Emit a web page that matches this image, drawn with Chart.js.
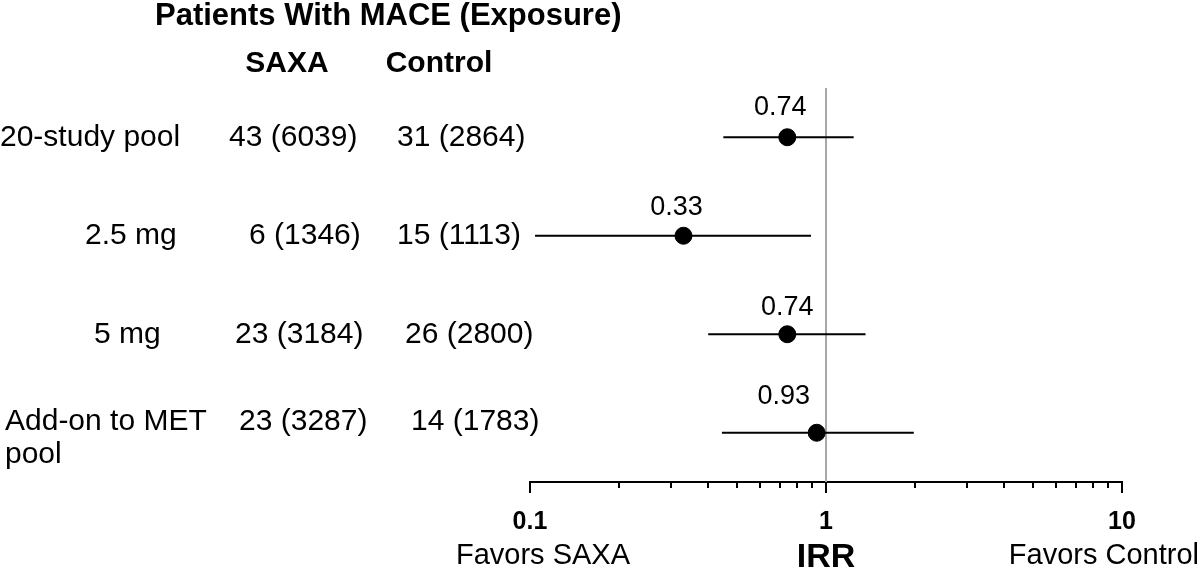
<!DOCTYPE html>
<html><head><meta charset="utf-8">
<script src="https://cdn.jsdelivr.net/npm/chart.js@4/dist/chart.umd.min.js"></script>
<style>html,body{margin:0;padding:0;background:#fff}</style>
</head><body>
<canvas id="c" width="1200" height="576"></canvas>
<script>
// ---- data ----
const studies = ['20-study pool', '2.5 mg', '5 mg', 'Add-on to MET\npool'];
const saxaCounts = ['43 (6039)', '6 (1346)', '23 (3184)', '23 (3287)'];
const controlCounts = ['31 (2864)', '15 (1113)', '26 (2800)', '14 (1783)'];
const irr = [0.74, 0.33, 0.74, 0.93];
const ciLow = [0.45, 0.104, 0.40, 0.445];
const ciHigh = [1.24, 0.89, 1.36, 1.98];
const rows = [1, 2, 3, 4];
const irrLabels = ['0.74', '0.33', '0.74', '0.93'];
const majorTicks = [0.1, 1, 10];
const minorTicks = [0.2, 0.3, 0.4, 0.5, 0.6, 0.7, 0.8, 0.9, 2, 3, 4, 5, 6, 7, 8, 9];
const tickLabels = ['0.1', '1', '10'];
const titleText = 'Patients With MACE (Exposure)';
const colHeaders = ['SAXA', 'Control'];
const bottomLabels = ['Favors SAXA', 'IRR', 'Favors Control'];

// ---- layout (not data) ----
const labelLeft = [0, 85, 94, 5];
const saxaLeft = [229, 249, 235, 239];
const ctrlLeft = [397, 397, 405, 411];
const valDx = [-7, -7, 0, -33];
const valDy = [-30, -28, -27, -36];
const FF = '"Liberation Sans", Arial, Helvetica, sans-serif';

function txt(ctx, s, x, y, font, align) {
  ctx.save();
  ctx.font = font;
  ctx.textBaseline = 'middle';
  ctx.textAlign = align || 'left';
  ctx.fillStyle = '#000';
  ctx.fillText(s, x, y);
  ctx.restore();
}

const textPlugin = {
  id: 'forestText',
  afterDraw(chart) {
    const ctx = chart.ctx;
    const xs = chart.scales.x, ys = chart.scales.y;
    const ca = chart.chartArea;
    // tick marks
    ctx.save();
    ctx.strokeStyle = '#000';
    ctx.lineWidth = 2;
    ctx.beginPath();
    majorTicks.forEach(v => { const px = Math.round(xs.getPixelForValue(v)); ctx.moveTo(px, ca.bottom); ctx.lineTo(px, ca.bottom + 11); });
    minorTicks.forEach(v => { const px = Math.round(xs.getPixelForValue(v)); ctx.moveTo(px, ca.bottom); ctx.lineTo(px, ca.bottom + 6); });
    ctx.stroke();
    ctx.restore();
    // title + headers
    txt(ctx, titleText, 155, 16, 'bold 31px ' + FF, 'left');
    txt(ctx, colHeaders[0], 287, 64, 'bold 30px ' + FF, 'center');
    txt(ctx, colHeaders[1], 439, 64, 'bold 30px ' + FF, 'center');
    // rows
    rows.forEach((r, i) => {
      const py = ys.getPixelForValue(r);
      const lines = studies[i].split('\n');
      const ty = lines.length > 1 ? py - 11 : py;
      lines.forEach((ln, k) => txt(ctx, ln, labelLeft[i], ty + k * 33, '30px ' + FF, 'left'));
      txt(ctx, saxaCounts[i], saxaLeft[i], ty, '30px ' + FF, 'left');
      txt(ctx, controlCounts[i], ctrlLeft[i], ty, '30px ' + FF, 'left');
      const px = xs.getPixelForValue(irr[i]);
      txt(ctx, irrLabels[i], px + valDx[i], py + valDy[i], '27px ' + FF, 'center');
    });
    // bottom labels
    txt(ctx, bottomLabels[0], 630, 556, '29px ' + FF, 'right');
    txt(ctx, bottomLabels[1], xs.getPixelForValue(1), 558, 'bold 34px ' + FF, 'center');
    txt(ctx, bottomLabels[2], 1199, 556, '29px ' + FF, 'right');
  }
};

const pointData = rows.map((r, i) => ({ x: irr[i], y: r }));
const ciSets = rows.map((r, i) => ({
  data: [{ x: ciLow[i], y: r }, { x: ciHigh[i], y: r }],
  showLine: true, borderColor: '#000', borderWidth: 2, pointRadius: 0, fill: false
}));

new Chart(document.getElementById('c'), {
  type: 'scatter',
  data: {
    datasets: [
      { data: pointData, backgroundColor: '#000', borderColor: '#000', pointRadius: 8.5, pointHoverRadius: 8.5 },
      ...ciSets,
      { data: [{ x: 1, y: 0.5 }, { x: 1, y: 4.5 }], showLine: true, borderColor: '#a8a8a8', borderWidth: 2, pointRadius: 0 }
    ]
  },
  options: {
    responsive: false,
    animation: false,
    devicePixelRatio: 1,
    layout: { padding: { left: 530, right: 78, top: 88, bottom: 0 } },
    plugins: { legend: { display: false }, tooltip: { enabled: false } },
    scales: {
      x: {
        type: 'logarithmic', min: 0.1, max: 10, position: 'bottom',
        grid: { display: false },
        border: { display: true, color: '#000', width: 2 },
        afterBuildTicks: s => { s.ticks = majorTicks.map(v => ({ value: v })); },
        ticks: {
          autoSkip: false, maxRotation: 0, padding: 17, color: '#000',
          font: { family: FF, size: 25, weight: 'bold' },
          callback: (v) => { const k = majorTicks.indexOf(v); return k >= 0 ? tickLabels[k] : ''; }
        },
        afterFit: s => { s.height = 94; }
      },
      y: { type: 'linear', min: 0.5, max: 4.5, reverse: true, display: false }
    }
  },
  plugins: [textPlugin]
});
</script>
</body></html>
